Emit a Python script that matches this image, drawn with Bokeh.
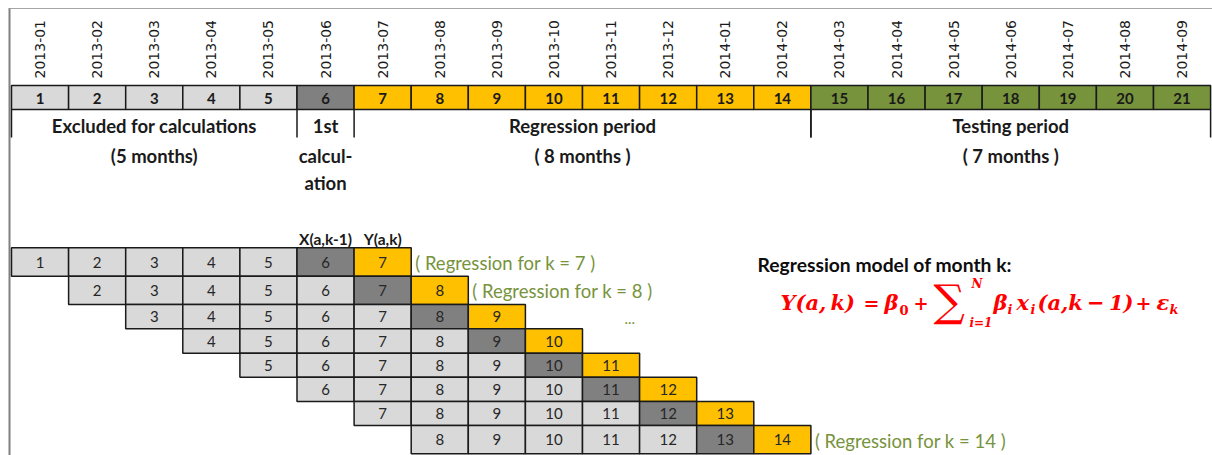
import math
from bokeh.plotting import figure
from bokeh.models import Range1d, ColumnDataSource
from bokeh.embed import file_html
from bokeh.resources import INLINE
from bokeh.core.properties import value

# ---------------- data ----------------
months = ["2013-01", "2013-02", "2013-03", "2013-04", "2013-05", "2013-06", "2013-07",
          "2013-08", "2013-09", "2013-10", "2013-11", "2013-12", "2014-01", "2014-02",
          "2014-03", "2014-04", "2014-05", "2014-06", "2014-07", "2014-08", "2014-09"]
month_numbers = list(range(1, 22))
month_period = ["excluded"] * 5 + ["first"] + ["regression"] * 8 + ["testing"] * 7
period_keys = ["excluded", "first", "regression", "testing"]
period_titles = ["Excluded for calculations", "1st", "Regression period", "Testing period"]
period_notes = [["(5 months)"], ["calcul-", "ation"], ["( 8 months )"], ["( 7 months )"]]
regression_ks = [7, 8, 9, 10, 11, 12, 13, 14]
window_months = 7
labelled_ks = [7, 8, 14]
model_title = "Regression model of month k:"

# ---------------- styles / layout ----------------
FILL = {"excluded": "#D9D9D9", "first": "#808080", "regression": "#FFC000", "testing": "#77933C"}
LIGHT, DARK, ORANGE = "#D9D9D9", "#808080", "#FFC000"
GREEN_TXT = "#77933C"
RED = "#FF0000"
FONT = value("Lato")
X0, W = 11.0, 57.1


def col_left(c):
    return X0 + (c - 1) * W


def col_center(c):
    return X0 + (c - 0.5) * W


p = figure(width=1212, height=455, x_range=Range1d(0, 1212), y_range=Range1d(455, 0),
           output_backend="svg", toolbar_location=None, min_border=0,
           x_axis_location=None, y_axis_location=None, outline_line_color=None)
p.grid.visible = False
p.background_fill_color = "white"

# frame lines (top and left)
p.segment(x0=[8], y0=[8], x1=[1212], y1=[8], line_color="#A6A6A6", line_width=1)
p.segment(x0=[9], y0=[8], x1=[9], y1=[455], line_color="#808080", line_width=2)

# ---------------- top timeline ----------------
top = ColumnDataSource(dict(
    left=[col_left(m) for m in month_numbers],
    right=[col_left(m) + W for m in month_numbers],
    x=[col_center(m) for m in month_numbers],
    color=[FILL[k] for k in month_period],
    num=[str(m) for m in month_numbers],
    month=months,
))
p.quad(left="left", right="right", top=85, bottom=109, fill_color="color",
       line_color="#1A1A1A", line_width=1.5, source=top)
p.text(x="x", y=97.5, text="num", text_font=FONT, text_font_style="bold",
       text_font_size="15px", text_align="center", text_baseline="middle",
       text_color="#1A1A1A", source=top)
p.text(x="x", y=78, text="month", angle=math.pi / 2, text_font=value("DejaVu Sans"),
       text_font_size="14px", text_align="left", text_baseline="middle",
       text_color="#1A1A1A", source=top)

# period brackets and labels
spans = []
for key in period_keys:
    idx = [m for m, k in zip(month_numbers, month_period) if k == key]
    spans.append((min(idx), max(idx)))
bx = sorted(set([col_left(a) for a, b in spans] + [col_left(b) + W for a, b in spans]))
p.segment(x0=bx, y0=[109] * len(bx), x1=bx, y1=[137] * len(bx),
          line_color="#1A1A1A", line_width=1.5)
for (a, b), title, notes in zip(spans, period_titles, period_notes):
    cx = (col_left(a) + col_left(b) + W) / 2
    p.text(x=[cx], y=[125], text=[title], text_font=FONT, text_font_style="bold",
           text_font_size="18.5px", text_align="center", text_baseline="middle",
           text_color="#1A1A1A")
    for i, n in enumerate(notes):
        p.text(x=[cx], y=[155 + 27 * i], text=[n], text_font=FONT, text_font_style="bold",
               text_font_size="18.5px", text_align="center", text_baseline="middle",
               text_color="#1A1A1A")

# ---------------- staircase ----------------
row_edges = [247.3, 275.7, 304, 328.3, 352.7, 376.7, 401, 425, 453.3]
cl, cr, ct, cb, cx, cy, cc, ctext = [], [], [], [], [], [], [], []
for r, k in enumerate(regression_ks):
    for m in range(k - window_months + 1, k + 1):
        cl.append(col_left(m)); cr.append(col_left(m) + W)
        ct.append(row_edges[r]); cb.append(row_edges[r + 1])
        cx.append(col_center(m)); cy.append((row_edges[r] + row_edges[r + 1]) / 2)
        cc.append(ORANGE if m == k else (DARK if m == k - 1 else LIGHT))
        ctext.append(str(m))
stair = ColumnDataSource(dict(left=cl, right=cr, top=ct, bottom=cb, x=cx, y=cy, color=cc, t=ctext))
p.quad(left="left", right="right", top="top", bottom="bottom", fill_color="color",
       line_color="#1A1A1A", line_width=1.5, source=stair)
p.text(x="x", y="y", text="t", text_font=FONT, text_font_size="15px", text_align="center",
       text_baseline="middle", text_color="#262626", source=stair)

k0 = regression_ks[0]
p.text(x=[col_center(k0 - 1), col_center(k0)], y=[238, 238], text=["X(a,k-1)", "Y(a,k)"],
       text_font=FONT, text_font_style="bold", text_font_size="15.5px", text_align="center",
       text_baseline="middle", text_color="#1A1A1A")

for k in labelled_ks:
    r = regression_ks.index(k)
    p.text(x=[col_left(k) + W + 4], y=[(row_edges[r] + row_edges[r + 1]) / 2 + 1],
           text=["( Regression for k = %d )" % k], text_font=FONT, text_font_size="18.5px",
           text_align="left", text_baseline="middle", text_color=GREEN_TXT)
p.text(x=[624], y=[318], text=["..."], text_font=FONT, text_font_size="15px",
       text_align="left", text_baseline="middle", text_color=GREEN_TXT)

# ---------------- model ----------------
p.text(x=[757], y=[264], text=[model_title], text_font=FONT, text_font_style="bold",
       text_font_size="19.3px", text_align="left", text_baseline="middle", text_color="#0D0D0D")

FF = value("DejaVu Serif")
TS = "\u2009"
pieces = [  # (x, y, text, size, style)
    (780, 302, "Y(a," + TS + "k)", "21px", "bold italic"),
    (863, 302, "=", "19px", "bold"),
    (884, 302, "β", "21px", "bold italic"),
    (899, 309, "0", "13px", "bold"),
    (913, 302, "+", "18px", "bold"),
    (933, 300, "∑", "44px", "normal"),
    (971, 283, "N", "12px", "bold italic"),
    (969, 322, "i=1", "12px", "bold italic"),
    (993, 302, "β", "21px", "bold italic"),
    (1007, 309, "i", "13px", "bold italic"),
    (1016, 302, "x", "21px", "bold italic"),
    (1030, 309, "i", "13px", "bold italic"),
    (1037, 302, "(a,k" + TS + "−" + TS + "1)", "21px", "bold italic"),
    (1135, 302, "+", "19px", "bold"),
    (1156, 302, "ε", "21px", "bold italic"),
    (1169, 309, "k", "13px", "bold italic"),
]
for x, y, t, s, st in pieces:
    p.text(x=[x], y=[y], text=[t], text_font=FF, text_font_size=s, text_font_style=st,
           text_align="left", text_baseline="middle", text_color=RED)

open("out.html", "w").write(file_html(p, INLINE))
